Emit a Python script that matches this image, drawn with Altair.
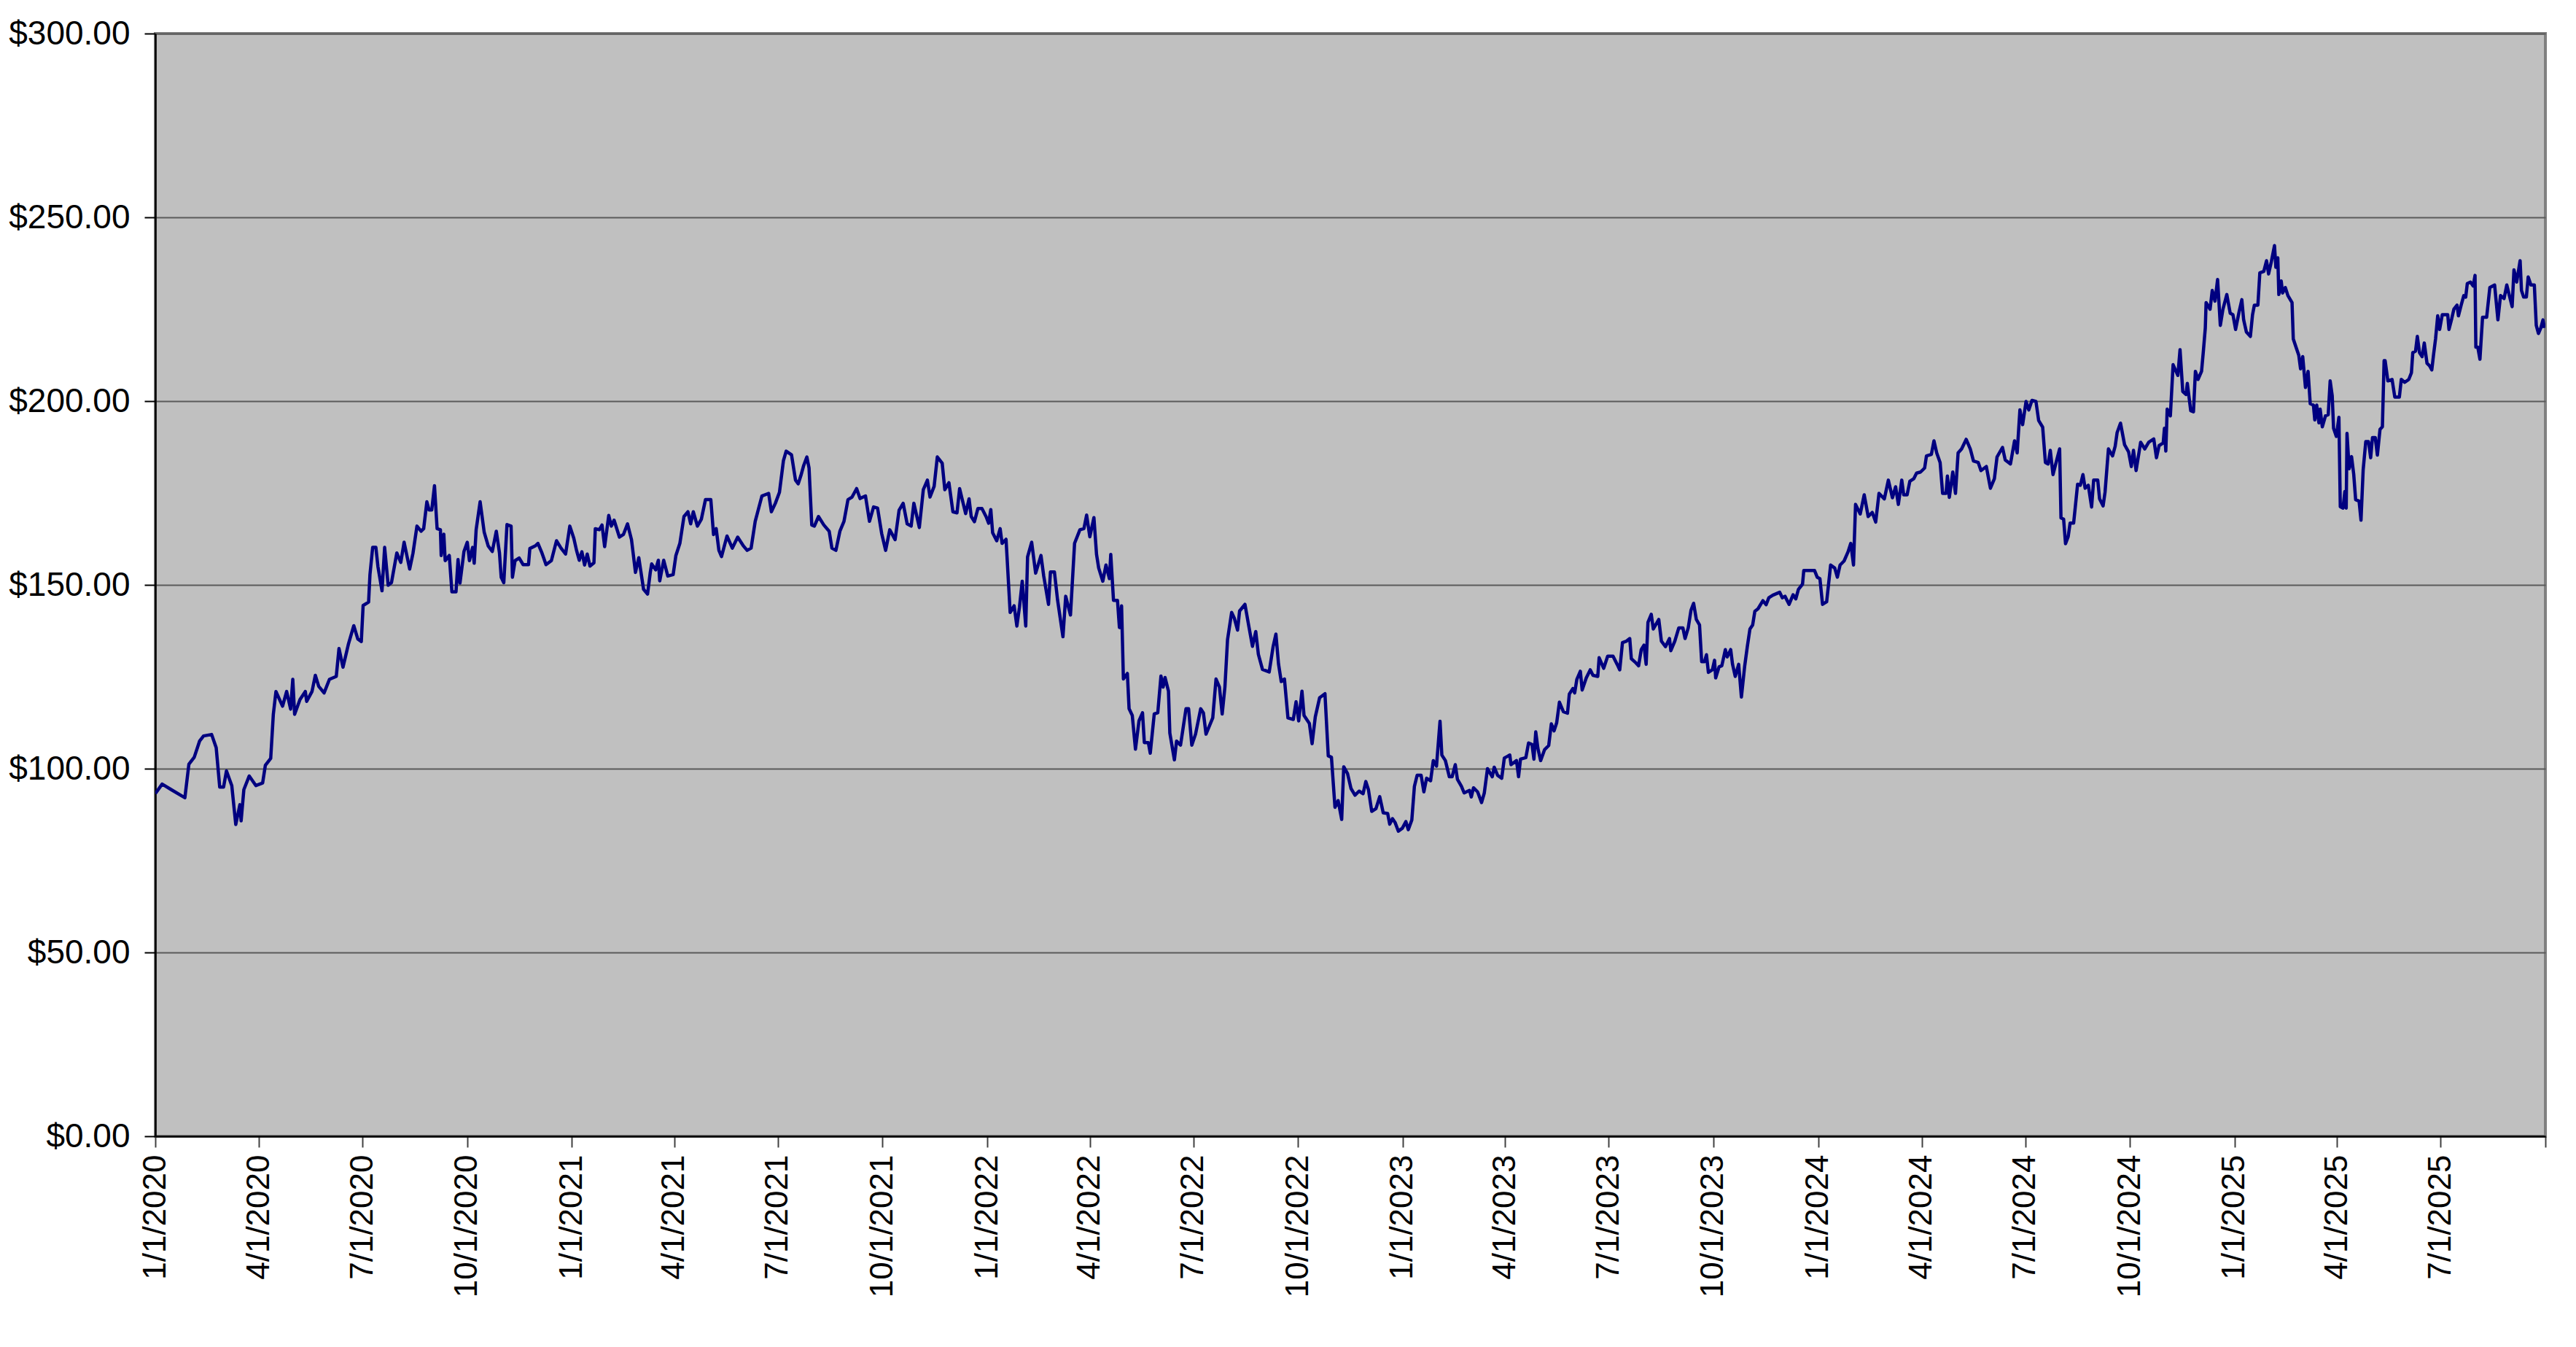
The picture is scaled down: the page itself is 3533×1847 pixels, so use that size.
import altair as alt
import pandas as pd

# ---- data (day offset from 1/1/2020, price in $) ----
days_a = [0, 6, 14, 26, 29.5, 34.2, 38.9, 42.4, 49.5, 53.5, 56.6, 60, 62.5, 67.2, 70.7, 74.3, 75.4, 77.8, 82.5, 88.4,
          94.3, 96.7, 101.4, 103.7, 106,
          111.8, 115.4, 118.9, 120.8, 122.4, 127.1, 131.8, 133, 137.7, 140.6, 143.6, 148.3, 153, 159, 161.4, 164.9, 169.6,
          174.4, 177.9, 181, 182.6, 187.4, 188.6, 191, 193.8, 195.6, 199.2, 201.5, 204.6, 207.5, 212.2, 215.7, 218.6,
          223.5, 226.4, 229.9, 233.5, 235.8, 238.6, 240.5, 242.9, 245.3, 247.6, 250.5, 251.2, 253.5, 254.7, 258.3, 260.6,
          264.2, 266, 267.7, 271.2, 274.1, 276, 278.8, 280.2, 281.9, 285.4, 289, 292.5, 296.1, 299.6, 302.4, 303.9, 306.2,
          309, 312.6, 313.8, 316.1, 319.7, 323.2, 327.9, 329.1, 333.8, 336.2, 339.7, 343.3, 348]
price_a = [93.2, 95.8, 94.3, 92.1, 101.2, 103.1, 107.5, 108.9, 109.3, 105.7, 95.0, 95.0, 99.4, 95.4, 84.8, 90.2, 85.8,
           94.3, 98.0, 95.4, 96.1, 100.9, 102.8, 114.8, 121.0,
           117.0, 121.0, 116.2, 124.3, 114.8, 118.8, 121.0, 118.3, 121.0, 125.4, 122.4, 120.6, 124.3, 125.1, 132.7, 127.6,
           133.8, 138.9, 135.3, 134.6, 144.4, 145.3, 152.8, 160.2, 160.2, 155.0, 148.4, 160.2, 149.9, 150.6, 158.7, 156.1,
           161.6, 154.3, 158.6, 166.0, 164.6, 165.3, 172.6, 170.4, 170.4, 177.0, 165.3, 165.0, 158.0, 163.8, 156.6, 158.0,
           148.1, 148.1, 156.9, 150.5, 159.1, 161.6, 156.6, 160.2, 155.9, 165.0, 172.6, 164.3, 160.6, 159.1, 164.6, 158.7,
           152.1, 150.6, 166.4, 166.0, 152.1, 156.6, 157.3, 155.5, 155.5, 159.9, 160.6, 161.3, 158.7, 155.5, 156.6]

days_b = [352.5, 356.5, 360.5, 364.2, 367.7, 370.1, 372.5, 374.8, 377.2, 379.5, 381.9, 385.4, 386.6, 390.1, 392.5, 394.8,
          398.4, 400.7, 403.1, 407.8, 411.3, 414.9, 418.4, 421.9, 424.8, 429, 432.5, 434.9, 436.1, 439.6, 442, 443.2,
          446.7, 450.3, 455, 457.4, 460.9, 464.5, 468, 470.4, 472.7, 476.3, 479.8, 483.4, 488.1, 490.5, 492.8, 495.2,
          497.5, 502.3, 507, 511.7, 516.5, 520, 523.5, 527.1, 533, 538.9, 541.3, 544.8, 548.4, 551.9, 554.3, 559, 562.5,
          564.9, 567.3, 569.7, 572.5, 574.4, 576.8, 579.1, 582.7, 587.4, 592.1, 594.5, 598, 601.5, 605.1, 608.6, 612.2,
          616.2, 619.2, 624, 627.5, 631.1, 634.6, 638.2, 641.7, 645.3, 650, 653.5, 657.1, 660.6, 664.1, 666.5, 671.3,
          674.8, 678.4, 680.7, 684.3, 687.1, 691.4, 693.7, 697.3, 700.8, 704.4, 706.7]
price_b = [162, 160, 158.4, 166, 162.7, 159.4, 156.7, 159, 155.4, 158.4, 155.1, 156, 165.3, 165, 166.3, 160.4, 168.9,
           166, 167.6, 163, 163.7, 166.6, 162.3, 153.4, 157.4, 148.8, 147.5, 153.4, 155.7, 154.1, 156.7, 151.1, 156.7,
           152.4, 152.8, 158, 161.3, 168.6, 169.9, 166.6, 169.9, 166, 167.9, 173.2, 173.2, 163.7, 165.3, 159.4, 157.7,
           163.3, 160, 163, 160.7, 159.4, 160, 167.3, 174.2, 174.9, 169.9, 172.2, 175.2, 183.8, 186.4, 185.4, 178.5,
           177.5, 179.8, 182.5, 184.8, 181.8, 166.3, 166, 168.6, 166.3, 164.6, 160, 159.4, 164.6, 167.3, 173.2, 173.9,
           176.2, 173.5, 174.2, 167.3, 171.2, 170.9, 164, 159.4, 165, 162.3, 170.3, 172.2, 166.6, 166, 172.2, 165.6,
           175.9, 178.5, 173.9, 176.8, 184.8, 183.1, 175.9, 177.8, 169.9, 169.6, 176.2]

days_c = [712, 715, 716.9, 719.7, 722.8, 726.3, 729.9, 732.2, 734.1, 735.7, 739.3, 742.3, 744, 747.5, 751.1, 754.6, 757,
          759.3, 761.7, 764.8, 766.4, 770, 773.5, 778.2, 780.6, 784.8, 786.5, 790, 792.8, 797.5, 799.9, 804.1, 807.7,
          812.4, 815.9, 818.3, 821.1, 824.7, 827, 828.9, 832.5, 835.3, 838.3, 839.5, 841.9, 845.4, 847.1, 849, 850.6,
          854.1, 855.6, 858.4, 861.2, 864.3, 867.4, 869, 872.5, 874.2, 877.7, 880.8, 883.6, 885.5, 887.2, 890.2, 891.4,
          895.4, 897.3, 900.8, 905.6, 907.9, 910.7, 914, 918.5, 920.9, 923.2, 929.1, 932, 935, 937.4, 939.8, 942.1,
          945.7, 948, 950.9, 952.7, 957.4, 961, 964, 966.9, 969.2, 972.8, 978.7, 982.2, 984.6, 986.9, 989.3, 992.1,
          995.2, 999.9, 1002.3, 1004.6, 1007.5, 1009.3, 1014, 1016.4, 1019.2, 1023, 1027.7, 1030.6, 1033.4, 1036.5,
          1039.3, 1042.4, 1044.2, 1047.5, 1050.6, 1054.1, 1057.7, 1061.2, 1063.6, 1065.9, 1068.8, 1072.5, 1075.8, 1078.9]
price_c = [169.4, 173.4, 168.6, 167.2, 170.8, 170.8, 168.6, 166.8, 170.5, 164.2, 162, 165.3, 161.3, 162.4, 142.5, 144.3,
           138.8, 144, 151, 138.8, 157.6, 161.6, 153.2, 158, 152.4, 144.7, 153.5, 153.5, 145.8, 135.9, 146.9, 141.8,
           161.3, 165, 165.3, 169, 163.1, 168.3, 158.3, 154.6, 151, 155.4, 151.7, 158.3, 145.8, 145.8, 138.4, 144.3,
           124.4, 125.9, 116.3, 114.5, 105.3, 113, 115.2, 107.1, 107.1, 104.2, 114.9, 115.2, 125.2, 122.2, 124.8, 121.1,
           109.7, 102.4, 107.5, 106.4, 116.3, 116.3, 106.4, 109.4, 116.3, 115.2, 109.4, 113.8, 124.4, 122.2, 114.9,
           122.2, 135.1, 142.5, 141, 137.7, 142.9, 144.7, 138.4, 133.3, 137.3, 131.1, 127, 126.3, 133.3, 136.6, 128.5,
           123.7, 124.4, 113.8, 113.4, 118.2, 113, 121.1, 114.5, 112.3, 106.8, 114.1, 119.3, 120.4, 103.5, 103.1, 89.5,
           91.3, 86.2, 100.5, 98.7, 94.6, 92.8, 93.9, 93.2, 96.5, 94.3, 88.4, 89.1, 92.4, 88]

days_d = [1082.8, 1084.6, 1087, 1089.4, 1092.2, 1095.7, 1098.8, 1100.9, 1104, 1106.3, 1108.7, 1112.2, 1114.6, 1117,
          1120.5, 1122.9, 1125.7, 1128.8, 1130.4, 1133.5, 1137, 1139.4, 1142.2, 1144.1, 1147.6, 1150, 1154.7, 1156.3,
          1158.2, 1161.8, 1165.3, 1167.7, 1170.5, 1174.7, 1176.4, 1179.4, 1183, 1185.3, 1187.7, 1190.1, 1191.2, 1196,
          1197.8, 1199.5, 1204.2, 1206.6, 1209.6, 1211.3, 1212.9, 1214.8, 1217.2, 1220.7, 1224.3, 1226.6, 1229, 1231.3,
          1233.7, 1237.2, 1240.8, 1242.4, 1245.5, 1247.1, 1249, 1252.1, 1253.7, 1257.3, 1260.8, 1263.2, 1267.4, 1268.6,
          1272.6, 1276.1, 1280.8, 1284.4, 1286.7, 1289.1, 1292.7, 1295.5, 1296.9, 1300.9, 1303.3, 1305.6, 1308, 1309.9,
          1311.5, 1314.4, 1316.2, 1321, 1323.3, 1326.9, 1330.4, 1331.6, 1335.1, 1338.6, 1342.2, 1344.1, 1346.9, 1349.3,
          1351.6, 1354, 1356.8, 1358.7, 1361.1, 1362.9, 1364.6, 1368.1, 1370, 1371, 1374, 1376.4, 1379.5, 1381.1,
          1384.2, 1385.8, 1388.2, 1391.2, 1393.6, 1396.4, 1398.8, 1401.1, 1403.5, 1405.4, 1408.2, 1412.5, 1415.3,
          1417.7, 1421.2]
price_d = [87.8, 84.9, 86.4, 85.3, 83, 83.8, 85.6, 83.4, 86, 95.2, 98.2, 98.2, 93.7, 97.4, 96.7, 102.2, 100.7, 112.9,
           103.7, 102.2, 97.8, 97.8, 101.1, 97.1, 95.2, 93.4, 94.1, 92.3, 94.8, 93.7, 90.8, 93.4, 100, 97.8, 100.4, 98.2,
           97.4, 102.9, 103.3, 103.7, 101.1, 102.2, 97.8, 102.6, 103, 107, 106.6, 102.6, 110, 105.5, 102.2, 105.2, 106.3,
           112.2, 110.3, 112.5, 118.1, 115.5, 115.1, 120.3, 121.8, 120.6, 124.3, 126.5, 121.4, 124.7, 126.9, 125.4,
           125.1, 130.2, 127.3, 130.6, 130.6, 128.4, 126.9, 134.3, 134.7, 135.4, 129.9, 128.8, 128, 132.4, 133.6, 128.4,
           139.8, 142, 138, 140.6, 134.7, 133.2, 135.4, 132.1, 134.7, 138.3, 138.3, 135.4, 138.3, 143.1, 145, 140.6,
           139.1, 129.1, 129.1, 131, 126.2, 126.9, 129.5, 124.7, 127.7, 128, 132.4, 130.4, 132.4, 128.4, 125.1, 128.4,
           119.5, 127.7, 133.2, 138, 139.1, 142.8, 143.5, 145.7, 144.6, 146.5, 147.2]

days_e = [1427.2, 1429.6, 1431.9, 1435.5, 1439, 1441.4, 1443.7, 1447.3, 1448.4, 1452, 1457.9, 1460.2, 1462.6, 1464.9,
          1468.5, 1472, 1475.6, 1477.9, 1480.3, 1483.8, 1487.3, 1489.7, 1492.1, 1493.9, 1498, 1501.5, 1505, 1508.6,
          1511.6, 1514.5, 1519.2, 1522.7, 1526.3, 1529.1, 1531.5, 1534.5, 1536.2, 1539.2, 1541.6, 1545.1, 1547.5, 1551,
          1554.6, 1556.2, 1560.5, 1562.8, 1565.2, 1568.2, 1570.4, 1573.4, 1574.6, 1576.3, 1579.3, 1581.7, 1584, 1587.1,
          1591.1, 1594.7, 1597.5, 1601.7, 1604.1, 1608.8, 1612.4, 1615.9, 1618.2, 1623, 1625.4, 1630, 1633.6, 1635.9,
          1638.3, 1640.7, 1643.7, 1646.1, 1648.9, 1652.4, 1654.8, 1658.3, 1660.7, 1663.1, 1665, 1667.4, 1670.1, 1673.2,
          1674.4, 1676.7, 1678.4, 1680.7, 1682.4, 1685.5, 1686.6, 1689, 1691.4, 1693.7, 1695.6, 1698.4, 1701.3, 1703.1,
          1706.7, 1708.3, 1711.4, 1713.1, 1716.1, 1719.7, 1722, 1723.7, 1726.7, 1730.3, 1733.8, 1736.2, 1738.1, 1740.4,
          1744.4, 1748, 1751.5]
price_e = [148, 146.5, 146.9, 144.7, 147.3, 146.2, 148.8, 150.2, 153.9, 153.9, 153.9, 152.1, 151.7, 144.7, 145.4, 155.4,
           154.6, 152.1, 155.4, 156.5, 159, 161.3, 155.4, 171.9, 169.3, 174.5, 168.6, 169.7, 167.1, 174.9, 173.4, 178.5,
           173.7, 176.7, 171.9, 178.5, 174.5, 174.5, 178.2, 178.9, 180.4, 180.7, 181.8, 185.1, 185.5, 189.2, 185.9,
           183.3, 174.9, 174.9, 179.6, 173.8, 180.7, 174.9, 185.9, 187, 189.6, 187, 183.7, 183.3, 181.1, 182.2, 176.3,
           178.9, 184.8, 187.4, 184, 182.9, 189.2, 185.9, 197.6, 193.6, 199.9, 197.6, 200.2, 199.9, 194.7, 192.9, 183.3,
           182.9, 186.6, 180, 183.3, 187, 168.2, 167.9, 161.2, 163.1, 166.8, 166.8, 170.1, 177.4, 177.1, 180, 176.3,
           177.1, 171.2, 178.5, 178.5, 173.4, 171.5, 175.2, 187, 185.1, 187.7, 191.4, 194, 188.1, 186.2, 182.2, 186.6,
           181.1, 188.8, 187, 188.8]

days_f = [1755.9, 1758.3, 1760.6, 1764.2, 1765.3, 1766.5, 1767.7, 1770.5, 1772.9, 1777.1, 1779, 1781.4, 1784.2, 1785.4,
          1788.4, 1790.8, 1792.5, 1794.8, 1797.9, 1799.5, 1801.2, 1801.9, 1805.4, 1807.3, 1809.7, 1812, 1814.4, 1816.7,
          1820.1, 1823.1, 1825.5, 1827.8, 1830.9, 1833.3, 1834.9, 1837.3, 1840.8, 1842.7, 1844.3, 1847.4, 1849.1,
          1852.6, 1855, 1856.8, 1859.2, 1862, 1863.2, 1864.9, 1865.8, 1867.9, 1869.1, 1871.5, 1873.8, 1877.4, 1878.5,
          1880.9, 1883.3, 1884.9, 1886.8, 1889.2, 1891.5, 1893.4, 1896.2, 1897.4, 1899.1, 1901, 1902.1, 1904, 1906.8,
          1909.2, 1910.9, 1912.7, 1913.9, 1916.3, 1918.6, 1919.8, 1922.2, 1923.8, 1925, 1925.7, 1927.6, 1929.7, 1931.6,
          1933.3, 1936.3, 1938, 1939.9, 1942.2, 1944.6, 1946.5, 1948.1, 1950.5, 1952.4, 1954.7, 1956.8, 1958.3, 1959.2,
          1961.6, 1965.3, 1967.7, 1971.7, 1973.4, 1976.4, 1980, 1982.3, 1983.5, 1985.9, 1987.5, 1989.4, 1991.7, 1993.6,
          1996, 1998.3, 2000.2, 2001.7, 2003.5, 2005.4, 2007.1, 2009.4, 2014.2, 2015.3, 2017.7, 2019.6, 2022.4, 2023.6,
          2026, 2028.3, 2030, 2031.4, 2034.2, 2036.6, 2038.2, 2038.9, 2040.6, 2042.5, 2044.8, 2048.4, 2051.2, 2055.4,
          2058.3, 2060.6, 2063.7, 2066.1, 2068.4, 2070.8, 2072.4, 2074.8, 2077.8, 2079, 2080.9, 2083.3, 2084.9, 2087.3,
          2090.3, 2092, 2093.9, 2096, 2097.9, 2099.1]
price_f = [189.7, 184.6, 187.9, 188.6, 192.6, 186.4, 197.8, 196, 209.9, 207, 214, 202.6, 201.8, 204.8, 197.4, 197.1,
           208.1, 205.9, 208.1, 213.6, 219.9, 226.8, 225, 230.1, 227.2, 233.1, 220.6, 225, 229, 223.9, 223.5, 219.5,
           224.3, 227.6, 222.1, 218.8, 217.6, 223.5, 226.1, 226.1, 234.9, 235.3, 238.2, 234.6, 237.9, 242.3, 236.4, 239,
           229, 232.7, 229.4, 230.9, 228.7, 226.8, 216.9, 214.7, 212.5, 208.8, 212.1, 203.7, 208.1, 199.3, 198.9, 194.9,
           198.9, 194.1, 197.8, 193, 196, 196.3, 205.5, 201.5, 192.6, 190.4, 195.6, 171.3, 170.9, 175.4, 170.9, 191.2,
           181.6, 184.9, 180.1, 173.2, 172.8, 167.6, 181.3, 189, 189, 184.6, 190.1, 190.1, 185.3, 192.3, 193, 211, 211,
           205.5, 205.9, 201.1, 201.1, 205.9, 205.1, 205.9, 207.7, 213.2, 213.6, 217.6, 213.2, 212.1, 215.8, 210.3,
           209.6, 208.5, 212.5, 216.9, 223.2, 219.5, 223.5, 223.5, 219.5, 222.4, 225, 226.1, 223.2, 226.1, 228.7, 228.3,
           232, 232.4, 231.3, 234.2, 214.7, 214.7, 211.4, 222.8, 222.8, 230.9, 231.6, 222.1, 228.7, 227.9, 231.6, 228.7,
           225.7, 235.7, 232.4, 238.2, 230.1, 228.3, 228.3, 233.8, 231.6, 231.6, 220.6, 218.4, 219.9, 222.1, 219.9]

# quarterly tick dates shown on the x axis (last one is the unlabeled end tick)
tick_years = [2020, 2020, 2020, 2020, 2021, 2021, 2021, 2021, 2022, 2022, 2022, 2022,
              2023, 2023, 2023, 2023, 2024, 2024, 2024, 2024, 2025, 2025, 2025, 2025]
tick_months = [1, 4, 7, 10] * 6
y_ticks = [0, 50, 100, 150, 200, 250, 300]

# ---- build the table ----
pairs = []
for dl, pl in [(days_a, price_a), (days_b, price_b), (days_c, price_c),
               (days_d, price_d), (days_e, price_e), (days_f, price_f)]:
    pairs.extend(zip(dl, pl))
all_days = [p[0] for p in pairs]
all_prices = [p[1] for p in pairs]
start = pd.Timestamp("2020-01-01")
dates = start + pd.to_timedelta(all_days, unit="D")
df = pd.DataFrame({"date": dates.strftime("%Y-%m-%dT%H:%M:%S"), "price": all_prices})

tick_values = [alt.DateTime(year=y, month=m, date=1) for y, m in zip(tick_years, tick_months)]

FONT = "Liberation Sans"

chart = alt.Chart(df).mark_line(
    color="#000080", strokeWidth=4.5, strokeJoin="round", clip=True
).encode(
    x=alt.X(
        "date:T",
        title=None,
        scale=alt.Scale(
            domain=[alt.DateTime(year=2020, month=1, date=1), alt.DateTime(year=2025, month=10, date=1)],
            nice=False,
        ),
        axis=alt.Axis(
            values=tick_values,
            labelExpr="(year(datum.value) == 2025 && month(datum.value) == 9) ? '' : timeFormat(datum.value, '%-m/%-d/%Y')",
            labelAngle=-90,
            labelAlign="right",
            labelBaseline="middle",
            labelFont=FONT,
            labelFontSize=44,
            labelColor="#000000",
            labelPadding=10,
            labelLimit=0,
            labelOverlap=False,
            labelBound=False,
            labelFlush=False,
            tickSize=15,
            tickWidth=2,
            tickColor="#404040",
            domainColor="#000000",
            domainWidth=2.5,
            grid=False,
        ),
    ),
    y=alt.Y(
        "price:Q",
        title=None,
        scale=alt.Scale(domain=[0, 300], nice=False, zero=True),
        axis=alt.Axis(
            values=y_ticks,
            format="$,.2f",
            labelFont=FONT,
            labelFontSize=46,
            labelColor="#000000",
            labelPadding=20,
            labelLimit=0,
            tickSize=15,
            tickWidth=2,
            tickColor="#000000",
            domainColor="#000000",
            domainWidth=2.5,
            grid=True,
            gridColor="#5a5a5a",
            gridWidth=2,
            labelFlush=False,
        ),
    ),
).properties(
    width=3278,
    height=1512,
    autosize=alt.AutoSizeParams(type="none"),
    padding={"left": 205, "top": 38, "right": 30, "bottom": 270},
    background="#ffffff",
).configure_view(
    fill="#C0C0C0",
    stroke="#808080",
    strokeWidth=4,
)

chart.save("out.html", embed_options={"renderer": "svg", "actions": False})
